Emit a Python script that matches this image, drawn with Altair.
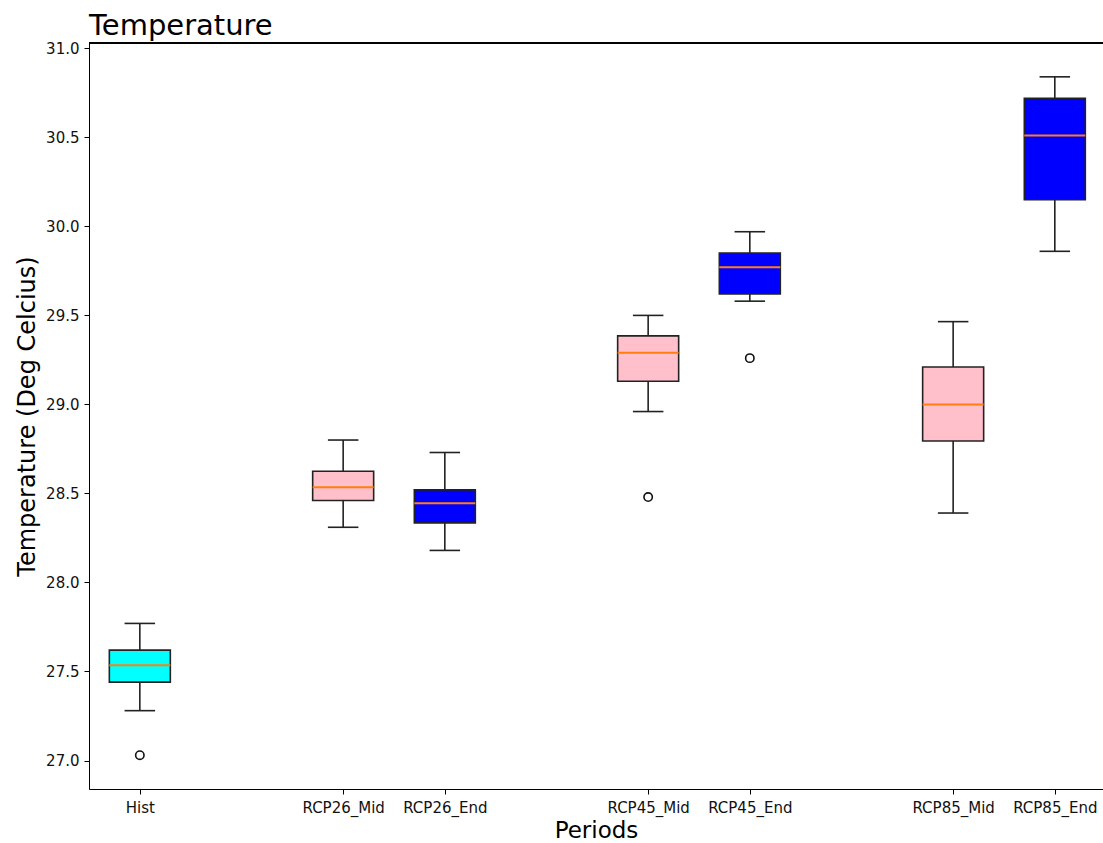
import altair as alt
import pandas as pd

categories = ["Hist", "RCP26_Mid", "RCP26_End", "RCP45_Mid", "RCP45_End", "RCP85_Mid", "RCP85_End"]
slots = [1, 3, 4, 6, 7, 9, 10]
whisker_low = [27.28, 28.31, 28.18, 28.96, 29.58, 28.39, 29.86]
q1 = [27.44, 28.46, 28.335, 29.13, 29.62, 28.795, 30.15]
median = [27.535, 28.535, 28.445, 29.29, 29.77, 29.0, 30.51]
q3 = [27.62, 28.625, 28.52, 29.385, 29.85, 29.21, 30.72]
whisker_high = [27.77, 28.80, 28.73, 29.50, 29.97, 29.465, 30.84]
box_colors = ["#00ffff", "#ffc0cb", "#0000ff", "#ffc0cb", "#0000ff", "#ffc0cb", "#0000ff"]

outlier_cats = ["Hist", "RCP45_Mid", "RCP45_End"]
outlier_vals = [27.03, 28.48, 29.26]

df = pd.DataFrame({
    "cat": categories, "slot": slots, "wlo": whisker_low, "q1": q1,
    "med": median, "q3": q3, "whi": whisker_high,
})
slot_of = dict(zip(categories, slots))
out_df = pd.DataFrame({"cat": outlier_cats, "slot": [slot_of[c] for c in outlier_cats], "val": outlier_vals})

label_expr = " : ".join(f"datum.value == {s} ? '{c}'" for s, c in zip(slots, categories)) + " : ''"

W, H = 1014, 746
xscale = alt.Scale(domain=[0.5, 10.474], nice=False, zero=False)
yscale = alt.Scale(domain=[26.84, 31.03], nice=False, zero=False)

xaxis = alt.Axis(values=slots, labelExpr=label_expr, title="Periods", grid=False,
                 tickSize=5, labelPadding=6, titlePadding=4, labelFontSize=15,
                 titleFontSize=23, titleFontWeight="normal", domainColor="#000",
                 tickColor="#000", labelColor="#111", titleColor="#000")
yaxis = alt.Axis(values=[27.0, 27.5, 28.0, 28.5, 29.0, 29.5, 30.0, 30.5, 31.0], format=".1f",
                 title="Temperature (Deg Celcius)", grid=False, tickSize=5, labelPadding=5,
                 titlePadding=6, labelFontSize=15, titleFontSize=24, titleFontWeight="normal",
                 domainColor="#000", tickColor="#000", labelColor="#111", titleColor="#000")

base = alt.Chart(df).transform_calculate(
    blo="datum.slot - 0.3", bhi="datum.slot + 0.3",
    clo="datum.slot - 0.15", chi="datum.slot + 0.15",
)

whisk_lo = base.mark_rule(color="#222", strokeWidth=1.6).encode(
    x=alt.X("slot:Q", scale=xscale, axis=xaxis),
    y=alt.Y("wlo:Q", scale=yscale, axis=yaxis), y2="q1:Q")
whisk_hi = base.mark_rule(color="#222", strokeWidth=1.6).encode(
    x="slot:Q", y="q3:Q", y2="whi:Q")
cap_lo = base.mark_rule(color="#222", strokeWidth=1.6).encode(
    x="clo:Q", x2="chi:Q", y="wlo:Q")
cap_hi = base.mark_rule(color="#222", strokeWidth=1.6).encode(
    x="clo:Q", x2="chi:Q", y="whi:Q")
boxes = base.mark_rect(stroke="#222", strokeWidth=1.6).encode(
    x="blo:Q", x2="bhi:Q", y="q1:Q", y2="q3:Q",
    fill=alt.Fill("cat:N", scale=alt.Scale(domain=categories, range=box_colors), legend=None))
meds = base.mark_rule(color="#ff7f0e", strokeWidth=2).encode(
    x="blo:Q", x2="bhi:Q", y="med:Q")
outs = alt.Chart(out_df).mark_point(filled=False, color="#111", size=70, strokeWidth=1.6, opacity=1).encode(
    x="slot:Q", y="val:Q")
top_spine = alt.Chart(df).mark_rule(color="#000", strokeWidth=1).encode(
    x=alt.value(0), x2=alt.value(W + 5), y=alt.value(0))

chart = alt.layer(whisk_lo, whisk_hi, cap_lo, cap_hi, boxes, meds, outs, top_spine).properties(
    width=W, height=H,
    title=alt.TitleParams("Temperature", anchor="start", frame="group", fontSize=29,
                          font="DejaVu Sans", fontWeight="normal", color="#000", offset=0),
    autosize=alt.AutoSizeParams(type="none"),
    padding={"left": 89, "top": 43, "right": 0, "bottom": 54},
).configure_view(stroke=None).configure(font="DejaVu Sans", background="white").configure_axis(
    labelFont="DejaVu Sans", titleFont="DejaVu Sans")

chart.save("out.html", embed_options={"renderer": "svg", "actions": False})
